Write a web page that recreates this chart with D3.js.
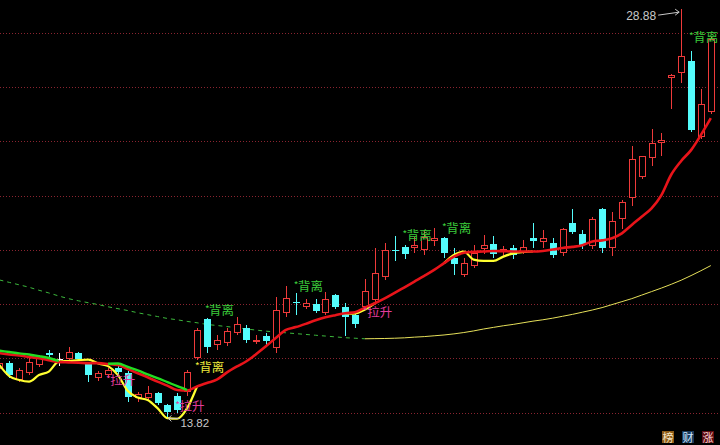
<!DOCTYPE html>
<html><head><meta charset="utf-8">
<script src="https://cdn.jsdelivr.net/npm/d3@7/dist/d3.min.js"></script>
<style>html,body{margin:0;padding:0;background:#000;overflow:hidden}svg{display:block}</style>
</head><body><svg id="c" width="720" height="445"></svg>
<script>
// ---- data ----
const opens  = [15.60,15.82,15.20,15.45,15.75,16.19,15.97,15.97,16.19,15.82,15.27,15.38,15.64,15.45,14.53,14.53,14.72,14.27,14.61,14.75,16.01,17.45,16.49,16.56,16.93,17.11,16.60,16.82,16.38,17.67,18.09,17.89,18.00,17.67,18.33,17.89,17.59,17.89,18.15,19.00,19.98,20.10,20.07,19.99,20.32,20.44,19.70,19.07,19.40,20.03,20.21,19.92,20.07,19.90,20.44,20.29,20.25,19.88,20.99,20.58,20.14,21.51,20.07,21.14,21.91,22.69,23.39,23.94,26.34,26.52,26.97,24.16,25.08];
const highs  = [15.90,15.90,15.64,16.01,16.12,16.30,16.19,16.41,16.23,15.86,15.53,15.64,15.71,15.53,14.75,14.97,14.75,14.31,14.72,15.56,17.11,17.48,16.86,17.11,17.52,17.23,16.86,16.93,18.26,18.66,18.41,18.18,18.18,18.44,18.37,18.04,17.67,18.92,20.07,20.25,20.51,20.18,20.47,20.73,20.80,20.47,20.07,19.70,20.18,20.55,20.51,20.14,20.18,20.36,20.99,20.73,20.44,20.80,21.51,20.73,21.21,21.53,21.40,21.84,23.83,23.48,24.46,24.31,26.47,28.88,27.34,25.93,27.85];
const lows   = [15.53,15.31,15.16,15.42,15.71,16.01,15.75,15.93,15.93,15.16,15.20,15.31,15.42,14.42,14.42,14.49,14.31,13.82,14.02,14.64,15.97,16.23,16.34,16.49,16.89,16.60,16.56,16.52,16.23,17.56,17.63,17.85,17.70,17.63,17.85,16.86,17.15,17.82,18.04,18.92,19.62,19.70,19.92,19.85,20.18,19.73,19.11,19.03,19.37,19.88,19.73,19.81,19.70,19.88,20.10,20.10,19.73,19.81,20.62,20.07,20.07,19.92,19.81,20.80,21.65,22.65,23.13,23.50,25.23,26.19,24.40,24.14,25.06];
const closes = [15.82,15.38,15.56,15.86,16.01,16.12,15.97,16.23,15.97,15.38,15.45,15.56,15.49,14.57,14.68,14.72,14.35,14.02,14.09,15.49,17.04,16.41,16.67,17.00,17.26,16.67,16.67,16.63,17.78,18.22,18.05,18.04,17.74,18.18,17.89,17.52,17.26,18.48,19.14,19.99,19.94,19.85,20.18,20.47,20.44,19.90,19.48,19.51,19.90,20.18,19.85,20.03,19.81,20.12,20.34,20.44,19.81,20.77,20.66,20.18,21.14,20.07,21.06,21.76,23.35,23.46,23.94,24.05,26.45,27.15,24.42,25.38,27.78];

const maRed = [16.19,16.14,16.10,16.05,16.00,15.93,15.86,15.85,15.84,15.82,15.82,15.79,15.75,15.60,15.45,15.30,15.14,14.99,14.83,14.81,14.96,15.09,15.21,15.47,15.69,15.89,16.16,16.45,16.76,17.05,17.15,17.27,17.40,17.51,17.59,17.66,17.70,17.87,18.03,18.21,18.41,18.62,18.83,19.04,19.26,19.51,19.75,19.89,19.93,19.94,19.96,19.95,19.94,19.94,19.94,19.96,20.01,20.07,20.11,20.17,20.31,20.35,20.43,20.61,20.92,21.22,21.53,22.02,22.78,23.28,23.68,24.24,24.86];
const maGreen = [16.28,16.23,16.18,16.14,16.08,16.01,15.90,null,null,null,null,15.80,15.81,15.68,15.55,15.41,15.27,15.12,14.97,14.83,null,null,null,null,null,null,null,null,null,null,null,null,null,null,null,null,null,null,null,null,null,null,null,null,null,null,null,null,null,null,null,null,null,null,null,null,null,null,null,null,null,null,null,null,null,null,null,null,null,null,null,null,null];
const lineYellow = [15.75,15.34,15.20,15.14,15.38,15.51,15.88,15.90,15.93,15.95,15.81,15.71,15.38,14.79,14.55,14.46,14.16,13.79,13.77,14.16,14.96,null,null,null,null,null,null,null,null,null,null,null,null,null,null,17.66,17.65,17.80,18.03,null,null,null,null,null,null,19.51,19.81,19.94,19.64,19.59,19.59,19.75,19.87,19.92,19.94,null,null,null,null,null,null,null,null,null,null,null,null,null,null,null,null,null,null];
const maLong = [18.89,18.80,18.71,18.62,18.51,18.41,18.30,18.20,18.12,18.05,17.98,17.90,17.83,17.76,17.68,17.61,17.54,17.47,17.42,17.36,17.31,17.25,17.21,17.17,17.13,17.08,17.04,17.00,16.97,16.94,16.91,16.88,16.85,16.82,16.79,16.76,16.74,16.72,16.725,16.73,16.74,16.755,16.78,16.80,16.83,16.86,16.90,16.95,17.01,17.08,17.14,17.20,17.25,17.31,17.37,17.42,17.48,17.55,17.62,17.70,17.78,17.87,17.98,18.09,18.20,18.33,18.46,18.59,18.73,18.88,19.05,19.23,19.42];

const gridPrices = [14,16,18,20,22,24,26,28];

const divIdx   = [21,30,20,41,45,70];
const divPrice = [17.59,18.48,15.49,20.36,20.62,27.67];
const divKind  = ['g','g','y','g','g','g'];
const divText  = '背离';
const pullIdx   = [11,37,18];
const pullPrice = [15.01,17.52,14.04];
const pullText  = '拉升';
const badges = ['榜','财','涨'];

// ---- drawing ----
const W = 720, H = 445, N = closes.length;
const svg = d3.select('#c');
svg.append('rect').attr('width', W).attr('height', H).attr('fill', '#000');
const x = d3.scaleLinear().domain([0, N - 1]).range([-0.58, 710.8]);
const y = d3.scaleLinear().domain([14, 28]).range([412.5, 33]);
const px = i => Math.round(x(i));
const py = v => Math.round(y(v));
const RED = '#ee3a3a', CYAN = '#54fcfc';

// grid
svg.append('g').selectAll('line').data(gridPrices).join('line')
  .attr('x1', 0).attr('x2', W)
  .attr('y1', d => py(d) + 0.5).attr('y2', d => py(d) + 0.5)
  .attr('stroke', '#8a2430').attr('stroke-dasharray', '1,2');

// long moving average: green dashed when falling, yellow solid when rising
const segs = []; let cur = null;
for (let i = 0; i < N - 1; i++) {
  const falling = maLong[i + 1] < maLong[i];
  if (!cur || cur.falling !== falling) { cur = {falling, pts: [i]}; segs.push(cur); }
  cur.pts.push(i + 1);
}
const segLine = d3.line().x(i => x(i)).y(i => y(maLong[i])).curve(d3.curveMonotoneX);
svg.append('g').selectAll('path').data(segs).join('path')
  .attr('d', s => segLine(s.pts)).attr('fill', 'none')
  .attr('stroke', s => s.falling ? '#3cb83c' : '#e6e05a')
  .attr('stroke-width', 1)
  .attr('stroke-dasharray', s => s.falling ? '4,4' : null);

// candles
const idx = d3.range(N);
const up = idx.filter(i => closes[i] > opens[i]);
const down = idx.filter(i => closes[i] < opens[i]);
const flat = idx.filter(i => closes[i] === opens[i]);

const gd = svg.append('g');
gd.selectAll('line').data(down).join('line')
  .attr('x1', i => px(i) + 0.5).attr('x2', i => px(i) + 0.5)
  .attr('y1', i => py(highs[i])).attr('y2', i => py(lows[i]) + 1)
  .attr('stroke', CYAN);
gd.selectAll('rect').data(down).join('rect')
  .attr('x', i => px(i) - 3).attr('width', 7)
  .attr('y', i => py(opens[i]))
  .attr('height', i => Math.max(1, py(closes[i]) - py(opens[i])))
  .attr('fill', CYAN);

const gu = svg.append('g');
gu.selectAll('line.hi').data(up).join('line').attr('class', 'hi')
  .attr('x1', i => px(i) + 0.5).attr('x2', i => px(i) + 0.5)
  .attr('y1', i => py(highs[i])).attr('y2', i => py(closes[i]))
  .attr('stroke', RED);
gu.selectAll('line.lo').data(up).join('line').attr('class', 'lo')
  .attr('x1', i => px(i) + 0.5).attr('x2', i => px(i) + 0.5)
  .attr('y1', i => py(opens[i])).attr('y2', i => py(lows[i]) + 1)
  .attr('stroke', RED);
gu.selectAll('rect').data(up).join('rect')
  .attr('x', i => px(i) - 2.5).attr('width', 6)
  .attr('y', i => py(closes[i]) + 0.5)
  .attr('height', i => Math.max(1, py(opens[i]) - py(closes[i]) - 1))
  .attr('fill', '#000').attr('stroke', RED);

const gf = svg.append('g');
gf.selectAll('line.v').data(flat).join('line').attr('class', 'v')
  .attr('x1', i => px(i) + 0.5).attr('x2', i => px(i) + 0.5)
  .attr('y1', i => py(highs[i])).attr('y2', i => py(lows[i]) + 1)
  .attr('stroke', '#fff');
gf.selectAll('line.h').data(flat).join('line').attr('class', 'h')
  .attr('x1', i => px(i) - 3).attr('x2', i => px(i) + 4)
  .attr('y1', i => py(closes[i]) + 0.5).attr('y2', i => py(closes[i]) + 0.5)
  .attr('stroke', '#fff');

// indicator lines
const lineGen = d3.line().defined(d => d != null).x((d, i) => x(i)).y(d => y(d)).curve(d3.curveMonotoneX);
svg.append('path').attr('d', lineGen(lineYellow)).attr('fill', 'none')
  .attr('stroke', '#ffff30').attr('stroke-width', 2.2).attr('stroke-linejoin', 'round');
svg.append('path').attr('d', lineGen(maRed)).attr('fill', 'none')
  .attr('stroke', '#e8141a').attr('stroke-width', 2.6).attr('stroke-linejoin', 'round');
svg.append('path').attr('d', lineGen(maGreen)).attr('fill', 'none')
  .attr('stroke', '#22dd22').attr('stroke-width', 2.4).attr('stroke-linejoin', 'round');

// signal labels
const FONT = '"Noto Sans CJK SC","Noto Sans",sans-serif';
function starLabel(g, xx, yy, txt, color) {
  const t = g.append('text').attr('x', xx).attr('y', yy).attr('fill', color)
    .attr('font-family', FONT);
  t.append('tspan').attr('font-size', 10).attr('dy', -2).text('*');
  t.append('tspan').attr('font-size', 12.5).attr('dy', 2).attr('dx', -0.5).text(txt);
}
const gl = svg.append('g');
divIdx.forEach((d, k) => starLabel(gl, x(d) - 2, y(divPrice[k]), divText, divKind[k] === 'g' ? '#3ccc3c' : '#f0ec3c'));
pullIdx.forEach((d, k) => starLabel(gl, x(d) - 2, y(pullPrice[k]), pullText, '#e03c9c'));

// high / low markers
const hiI = d3.maxIndex(highs), loI = d3.minIndex(lows);
const hx = x(hiI), hy = y(highs[hiI]);
gl.append('text').attr('x', hx - 25).attr('y', hy + 11).attr('text-anchor', 'end')
  .attr('fill', '#c8c8c8').attr('font-family', '"Liberation Sans",Arial,sans-serif').attr('font-size', 12)
  .text(highs[hiI].toFixed(2));
gl.append('path').attr('d', `M${hx - 23},${hy + 6} L${hx - 2},${hy + 3} M${hx - 6},${hy} L${hx - 2},${hy + 3} L${hx - 6},${hy + 6}`)
  .attr('fill', 'none').attr('stroke', '#c8c8c8').attr('stroke-width', 1);
const lx = x(loI), ly = y(lows[loI]);
gl.append('path').attr('d', `M${lx + 12},${ly + 1} L${lx + 1},${ly + 1} M${lx + 4},${ly - 2} L${lx + 1},${ly + 1} L${lx + 4},${ly + 4}`)
  .attr('fill', 'none').attr('stroke', '#c8c8c8').attr('stroke-width', 1);
gl.append('text').attr('x', lx + 13).attr('y', ly + 10)
  .attr('fill', '#c8c8c8').attr('font-family', '"Liberation Sans",Arial,sans-serif').attr('font-size', 11.5)
  .text(lows[loI].toFixed(2));

// badges bottom-right
const bg = ['#8c5a16', '#17385a', '#5e0c10'];
const fg = ['#f4e4c4', '#cfe6ff', '#ffd6d6'];
const gb = svg.append('g');
badges.forEach((b, k) => {
  const bx = 662 + k * 20;
  gb.append('rect').attr('x', bx).attr('y', 431).attr('width', 12).attr('height', 12).attr('fill', bg[k]);
  gb.append('text').attr('x', bx + 6).attr('y', 441.5).attr('text-anchor', 'middle')
    .attr('font-family', FONT).attr('font-size', 11).attr('fill', fg[k]).text(b);
});
</script></body></html>
